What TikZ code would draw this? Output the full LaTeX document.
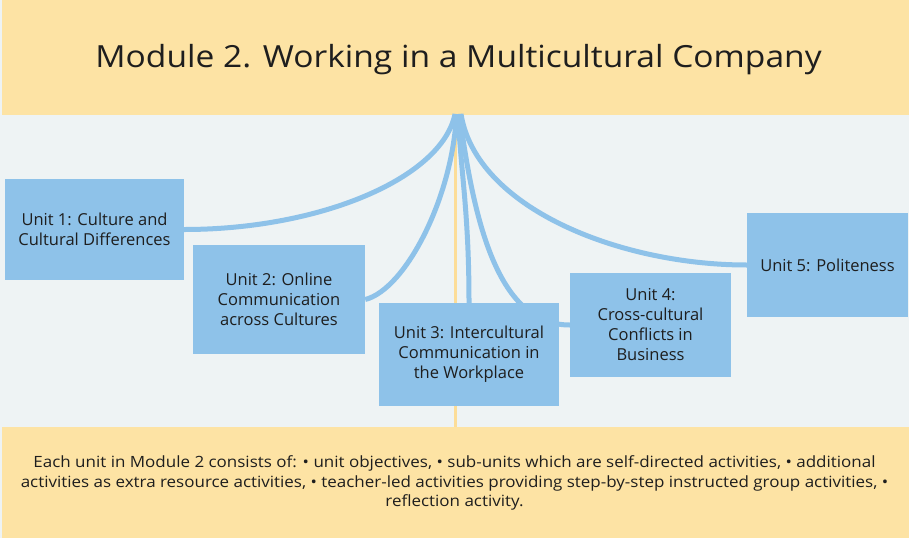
\documentclass[tikz,border=0pt]{standalone}
\usepackage{fontspec}
\setmainfont{Open Sans}
\newfontfamily\titlefont[FakeStretch=1.1]{Open Sans}
\newfontfamily\notefont[FakeStretch=1.095]{Open Sans}
\usetikzlibrary{backgrounds}
\definecolor{band}{HTML}{FDE3A4}
\definecolor{midbg}{HTML}{EEF3F4}
\definecolor{unitblue}{HTML}{8EC2E9}
\definecolor{spine}{HTML}{FCDD98}
\definecolor{ink}{HTML}{1E1E1E}
\pgfdeclarelayer{paper}
\pgfdeclarelayer{links}
\pgfsetlayers{paper,links,main}
\begin{document}
\begin{tikzpicture}[x=1pt,y=-1pt,
  unitbox/.style={fill=unitblue, draw=none, inner sep=0pt, align=center,
    font=\fontsize{16.5}{20}\selectfont, text=ink},
  link/.style={draw=unitblue, line width=5pt},
  spineline/.style={draw=spine, line width=3pt}]
\useasboundingbox (0,0) rectangle (909,538);

% unit boxes
\node[unitbox, minimum width=179pt, minimum height=101pt] (u1) at (94.5,229.5)
  {Unit 1: Culture and\\Cultural Differences};
\node[unitbox, minimum width=172pt, minimum height=109pt] (u2) at (279,299.5)
  {Unit 2: Online\\Communication\\across Cultures};
\node[unitbox, minimum width=180pt, minimum height=103pt] (u3) at (469,354.5)
  {Unit 3: Intercultural\\Communication in\\the Workplace};
\node[unitbox, minimum width=161pt, minimum height=104pt] (u4) at (650.5,325)
  {Unit 4:\\Cross-cultural\\Conflicts in\\Business};
\node[unitbox, minimum width=161pt, minimum height=104pt] (u5) at (827.5,265)
  {Unit 5: Politeness};

% title and note
\node[anchor=base, inner sep=0pt, text=ink, font=\titlefont\fontsize{30.5}{36}\selectfont]
  (title) at (458.5,67.5) {Module 2. Working in a Multicultural Company};
\node[anchor=center, inner sep=0pt, text=ink, align=center,
  font=\notefont\fontsize{15.5}{19.5}\selectfont] (note) at (454.5,483)
  {Each unit in Module 2 consists of: \textbullet\ unit objectives, \textbullet\ sub-units which are self-directed activities, \textbullet\ additional\\
   activities as extra resource activities, \textbullet\ teacher-led activities providing step-by-step instructed group activities, \textbullet\\
   reflection activity.};

% the module's stem, where all unit links meet
\coordinate (hub) at (458,114);
\coordinate (spinetop) at (455,115);
\coordinate (spinebot) at (455,427);

% background bands
\begin{pgfonlayer}{paper}
  \fill[midbg] (0,0) rectangle (909,538);
  \fill[band] (2,0) rectangle (909,115);
  \fill[band] (2,427) rectangle (909,538);
\end{pgfonlayer}

% connectors from the module to its units
\begin{pgfonlayer}{links}
  \draw[spineline] (spinetop) -- (spinebot);
  \draw[link] (u1.east) .. controls +(136,0) and +(-13,64) .. ([xshift=-3pt]hub);
  \draw[link] (u2.east) .. controls +(40,-10) and +(-4,84) .. ([xshift=-1.5pt]hub);
  \draw[link] (u3.north) .. controls +(0,-90) and +(3,60) .. (hub);
  \draw[link] (u4.west) .. controls +(-70,0) and +(15,114) .. ([xshift=1.5pt]hub);
  \draw[link] (u5.west) .. controls +(-127,0) and +(15,94) .. ([xshift=3pt]hub);
\end{pgfonlayer}
\end{tikzpicture}
\end{document}
